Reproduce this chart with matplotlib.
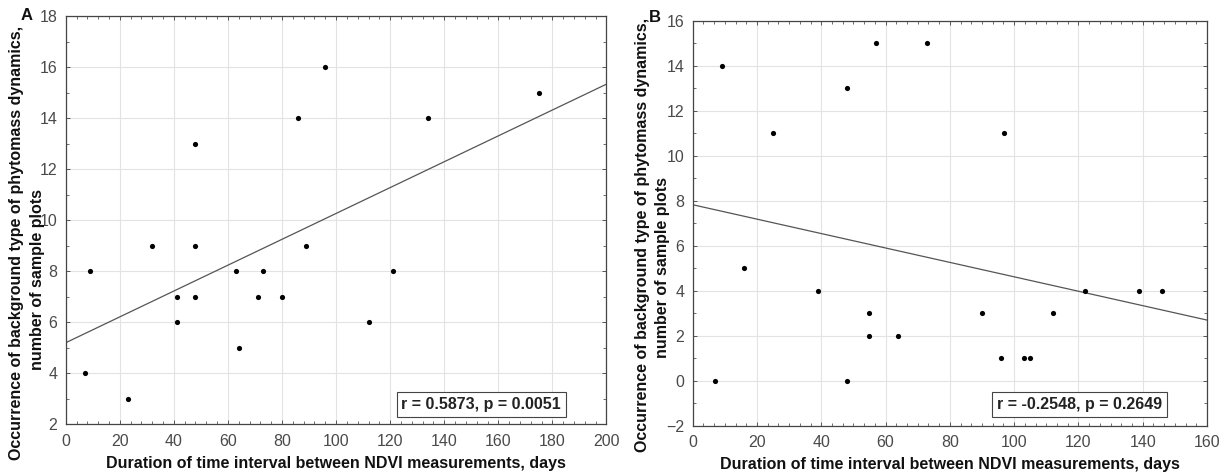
import numpy as np
import matplotlib
matplotlib.use("Agg")
import matplotlib.pyplot as plt
from matplotlib.ticker import MultipleLocator, AutoMinorLocator

plt.rcParams['font.family'] = ['Liberation Sans', 'DejaVu Sans']

# Panel A data
a_x = [7, 9, 23, 32, 41, 41, 48, 48, 48, 63, 64, 71, 73, 80, 86, 89, 96, 112, 121, 134, 175]
a_y = [4, 8, 3, 9, 7, 6, 13, 9, 7, 8, 5, 7, 8, 7, 14, 9, 16, 6, 8, 14, 15]
a_text = "r = 0.5873, p = 0.0051"

# Panel B data
b_x = [7, 9, 16, 25, 39, 48, 48, 55, 55, 57, 64, 73, 90, 96, 97, 103, 105, 112, 122, 139, 146]
b_y = [0, 14, 5, 11, 4, 0, 13, 3, 2, 15, 2, 15, 3, 1, 11, 1, 1, 3, 4, 4, 4]
b_text = "r = -0.2548, p = 0.2649"

xlabel = "Duration of time interval between NDVI measurements, days"
ylabel1 = "Occurrence of background type of phytomass dynamics,"
ylabel2 = "number of sample plots"

W, H = 1229, 475
fig = plt.figure(figsize=(W / 100, H / 100), dpi=100)

def px(x0, y0, x1, y1):
    return [x0 / W, 1 - y1 / H, (x1 - x0) / W, (y1 - y0) / H]

axA = fig.add_axes(px(65.7, 16, 606.5, 424))
axB = fig.add_axes(px(692.7, 21, 1207, 425.5))

def style(ax, xlim, ylim, xmaj, ymaj, xminor_n):
    ax.set_xlim(*xlim)
    ax.set_ylim(*ylim)
    ax.xaxis.set_major_locator(MultipleLocator(xmaj))
    ax.yaxis.set_major_locator(MultipleLocator(ymaj))
    ax.xaxis.set_minor_locator(AutoMinorLocator(xminor_n))
    ax.yaxis.set_minor_locator(AutoMinorLocator(2))
    ax.grid(True, which='major', color='#e3e3e3', linewidth=0.8)
    ax.set_axisbelow(True)
    ax.tick_params(which='both', direction='in', top=True, right=True,
                   color='#555555', labelsize=11.5, labelcolor='#4a4a4a')
    ax.tick_params(axis='x', pad=7)
    ax.tick_params(axis='y', pad=6)
    ax.tick_params(which='major', length=3, width=0.7)
    ax.tick_params(which='minor', length=2, width=0.6)
    for s in ax.spines.values():
        s.set_color('#444444')
        s.set_linewidth(0.9)

def panel(ax, xs, ys, xlim, ylim, xmaj, ymaj, xminor_n, txt, tx, ty):
    style(ax, xlim, ylim, xmaj, ymaj, xminor_n)
    ax.scatter(xs, ys, s=14, color='black', zorder=3, linewidths=0)
    k, b = np.polyfit(xs, ys, 1)
    lx = np.array(xlim, dtype=float)
    ax.plot(lx, k * lx + b, color='#555555', linewidth=0.9, zorder=2)
    ax.text(tx, ty, txt, transform=ax.transAxes, ha='right', va='bottom',
            fontsize=11.5, fontweight='bold', color='#222222',
            bbox=dict(boxstyle='square,pad=0.3', fc='white', ec='#444444', lw=0.8))
    ax.set_xlabel(xlabel, fontsize=11.5, fontweight='bold', color='#111111', labelpad=5)

panel(axA, a_x, a_y, (0, 200), (2, 18), 20, 2, 5, a_text, 0.916, 0.03)
panel(axB, b_x, b_y, (0, 160), (-2, 16), 20, 2, 6, b_text, 0.9125, 0.034)

# y labels (two lines each)
ykw = dict(rotation=90, ha='center', va='center', fontsize=11.5,
           fontweight='bold', color='#111111')
fig.text(17 / W, 1 - 243 / H, ylabel1, **ykw)
fig.text(38 / W, 1 - 280 / H, ylabel2, **ykw)
fig.text(643 / W, 1 - 235 / H, ylabel1, **ykw)
fig.text(663 / W, 1 - 267 / H, ylabel2, **ykw)

# panel letters
fig.text(27 / W, 1 - 16 / H, "A", ha='center', va='center', fontsize=12,
         fontweight='bold', color='#111111')
fig.text(655 / W, 1 - 18 / H, "B", ha='center', va='center', fontsize=12,
         fontweight='bold', color='#111111')

fig.savefig("out.png", dpi=100)
